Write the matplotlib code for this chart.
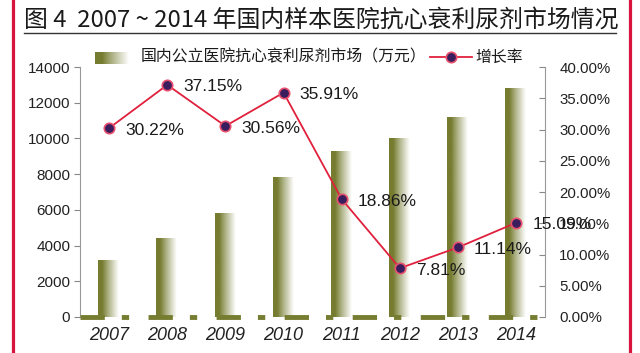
import numpy as np
import matplotlib
matplotlib.use("Agg")
import matplotlib.pyplot as plt
from matplotlib.lines import Line2D

plt.rcParams['font.family'] = ['Liberation Sans', 'Noto Sans CJK SC', 'DejaVu Sans']

years = ['2007', '2008', '2009', '2010', '2011', '2012', '2013', '2014']
market = [3200, 4400, 5800, 7850, 9300, 10050, 11200, 12850]
growth = [30.22, 37.15, 30.56, 35.91, 18.86, 7.81, 11.14, 15.09]
growth_labels = ['30.22%', '37.15%', '30.56%', '35.91%', '18.86%', '7.81%', '11.14%', '15.09%']

title = '图 4  2007 ~ 2014 年国内样本医院抗心衰利尿剂市场情况'
bar_name = '国内公立医院抗心衰利尿剂市场（万元）'
line_name = '增长率'

olive = np.array([118, 124, 48]) / 255.0
red = '#e0203c'


def gradient(n=64):
    t = np.linspace(0, 1, n)
    w = np.clip((t - 0.2) / 0.75, 0, 1) ** 0.9
    rgb = olive[None, :] * (1 - w[:, None]) + w[:, None]
    return rgb[None, :, :]


fig = plt.figure(figsize=(6.4, 3.53), dpi=100)
ax = fig.add_axes([0.125, 0.102, 0.727, 0.708])
x = np.arange(len(years))

bars = ax.bar(x, market, width=0.37, color='none', edgecolor='none', zorder=2)
grad = gradient()
for b in bars:
    x0, y0 = b.get_x(), b.get_y()
    im = ax.imshow(grad, extent=[x0, x0 + b.get_width(), y0, y0 + b.get_height()],
                   aspect='auto', zorder=2, interpolation='bilinear')
    im.set_clip_path(b)

ax.set_xlim(-0.5, 7.5)
ax.set_ylim(0, 14000)
ax.set_yticks(range(0, 14001, 2000))
ax.set_xticks(x)
ax.set_xticklabels(years, fontstyle='italic', fontsize=13)
ax.tick_params(axis='x', length=0, pad=7, colors='#222222')
ax.tick_params(axis='y', labelsize=11, length=4, color='#888888', labelcolor='#222222', pad=3)
for s in ['top', 'bottom', 'right']:
    ax.spines[s].set_visible(False)
ax.spines['left'].set_color('#999999')

# broken olive floor
ax.plot([-0.5, 7.5], [0, 0], color=olive, lw=3.5, dashes=(5, 3.5, 1.5, 4), solid_capstyle='butt',
        clip_on=False, zorder=3)

ax2 = ax.twinx()
ax2.set_ylim(0, 40)
ax2.set_yticks(range(0, 41, 5))
ax2.set_yticklabels([f'{v:.2f}%' for v in range(0, 41, 5)])
ax2.tick_params(axis='y', labelsize=10.8, length=4, direction='in', color='#888888',
                labelcolor='#222222', pad=10)
for s in ['top', 'bottom', 'left']:
    ax2.spines[s].set_visible(False)
ax2.spines['right'].set_color('#999999')

ax2.plot(x, growth, color=red, lw=1.3, marker='o', markersize=7.5,
         markerfacecolor='#3a1d5c', markeredgecolor='#e8506e', markeredgewidth=1.2, zorder=4)
for xi, g, lab in zip(x, growth, growth_labels):
    ax2.annotate(lab, (xi, g), xytext=(16, -2), textcoords='offset pixels',
                 ha='left', va='center', fontsize=12.5, color='#1a1a1a', zorder=5)

# title and underline
fig.text(24 / 640, 1 - 20 / 353, title, fontsize=17.2, va='center', ha='left',
         family=['Noto Sans CJK SC', 'DejaVu Sans'], color='#1a1a1a')
fig.add_artist(Line2D([24 / 640, 616 / 640], [1 - 33 / 353] * 2, color='#333333', lw=1))

# red side borders
for xr in [12.5, 629.5]:
    fig.add_artist(Line2D([xr / 640] * 2, [0, 1], color='#d9143c', lw=2.3))

# legend
lax = fig.add_axes([95 / 640, 1 - 64 / 353, 36 / 640, 12 / 353])
lax.imshow(gradient(), aspect='auto', extent=[0, 1, 0, 1], interpolation='bilinear')
lax.axis('off')
fig.text(141 / 640, 1 - 57 / 353, bar_name, fontsize=11.4, va='center', ha='left',
         family=['Noto Sans CJK SC', 'DejaVu Sans'], color='#1a1a1a')
ly = 1 - 57 / 353
fig.add_artist(Line2D([430 / 640, 472 / 640], [ly, ly], color=red, lw=1.3))
fig.add_artist(Line2D([451 / 640], [ly], marker='o', markersize=7.5, markerfacecolor='#3a1d5c',
                      markeredgecolor='#e8506e', markeredgewidth=1.2))
fig.text(475 / 640, ly, line_name, fontsize=11.4, va='center', ha='left',
         family=['Noto Sans CJK SC', 'DejaVu Sans'], color='#1a1a1a')

fig.savefig('out.png', dpi=100)
